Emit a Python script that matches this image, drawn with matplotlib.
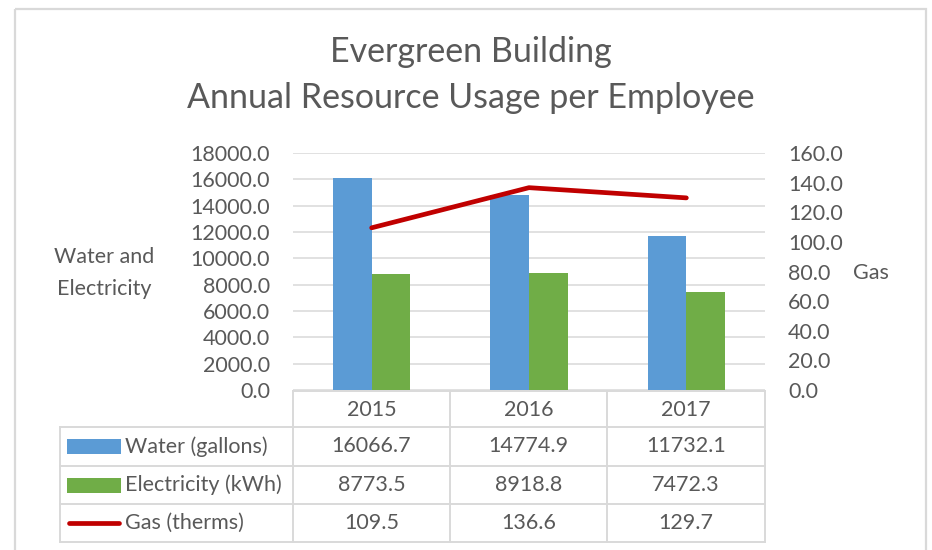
import numpy as np
import matplotlib.pyplot as plt
from matplotlib.patches import Rectangle
from matplotlib.lines import Line2D
from matplotlib.ticker import FormatStrFormatter, MultipleLocator

plt.rcParams['font.family'] = ['Lato', 'DejaVu Sans']

# ── data ──────────────────────────────────────────────────────────────
years = ['2015', '2016', '2017']
water = [16066.7, 14774.9, 11732.1]        # gallons
electricity = [8773.5, 8918.8, 7472.3]     # kWh
gas = [109.5, 136.6, 129.7]                # therms
series_names = ['Water (gallons)', 'Electricity (kWh)', 'Gas (therms)']

# ── style ─────────────────────────────────────────────────────────────
BLUE, GREEN, RED = '#5B9BD5', '#70AD47', '#C00000'
GRID = '#D9D9D9'
TXT = '#595959'
FS = 15.5
W, H = 932, 550

fig = plt.figure(figsize=(W / 100, H / 100), dpi=100)

# overlay in pixel coords for frame + data table
ov = fig.add_axes([0, 0, 1, 1])
ov.set_xlim(0, W)
ov.set_ylim(H, 0)
ov.axis('off')

# plot area (pixels): x 293..765, y 153..390
px0, px1, py0, py1 = 293, 765, 153, 390
ax = fig.add_axes([px0 / W, 1 - py1 / H, (px1 - px0) / W, (py1 - py0) / H])
ax2 = ax.twinx()

x = np.arange(len(years))
bw = 0.245
ax.bar(x - bw / 2, water, bw, color=BLUE, zorder=3)
ax.bar(x + bw / 2, electricity, bw, color=GREEN, zorder=3)
ax2.plot(x, gas, color=RED, lw=3.4, solid_capstyle='round', zorder=4)

ax.set_xlim(-0.5, len(years) - 0.5)
ax.set_ylim(0, 18000)
ax2.set_ylim(0, 160)
ax.yaxis.set_major_locator(MultipleLocator(2000))
ax2.yaxis.set_major_locator(MultipleLocator(20))
ax.yaxis.set_major_formatter(FormatStrFormatter('%.1f'))
ax2.yaxis.set_major_formatter(FormatStrFormatter('%.1f'))
ax.grid(axis='y', color=GRID, lw=1.1, zorder=0)
ax.set_axisbelow(True)
ax.set_xticks([])
for a in (ax, ax2):
    for s in a.spines.values():
        s.set_visible(False)
    a.tick_params(axis='y', length=0, labelsize=FS, labelcolor=TXT, pad=16.5)

# axis titles
ov.text(104, 273, 'Water and\nElectricity', ha='center', va='center',
        fontsize=FS, color=TXT, linespacing=1.8)
ov.text(871, 273, 'Gas', ha='center', va='center', fontsize=FS, color=TXT)

# chart title
ov.text(471, 52, 'Evergreen Building', ha='center', va='center',
        fontsize=24.5, color=TXT)
ov.text(471, 98, 'Annual Resource Usage per Employee', ha='center',
        va='center', fontsize=24.5, color=TXT)

# outer frame
ov.add_patch(Rectangle((15, 9), 911, 560, fill=False, ec=GRID, lw=1.6))

# ── data table ────────────────────────────────────────────────────────
cols = [293, 450, 607, 765]
rows = [391, 427, 466, 504, 542]
tl = dict(color=GRID, lw=1.4)
ov.add_line(Line2D([cols[0], cols[-1]], [rows[0], rows[0]], **tl))
for yy in rows[1:]:
    ov.add_line(Line2D([60, cols[-1]], [yy, yy], **tl))
for xx in cols:
    ov.add_line(Line2D([xx, xx], [rows[0], rows[-1]], **tl))
ov.add_line(Line2D([60, 60], [rows[1], rows[-1]], **tl))

centers = [(cols[i] + cols[i + 1]) / 2 for i in range(len(years))]
for cx, yr in zip(centers, years):
    ov.text(cx, (rows[0] + rows[1]) / 2 + 1, yr, ha='center', va='center',
            fontsize=FS, color=TXT)

table_vals = [water, electricity, gas]
for r, (name, vals) in enumerate(zip(series_names, table_vals)):
    cy = (rows[r + 1] + rows[r + 2]) / 2
    if r < 2:
        ov.add_patch(Rectangle((67, cy - 7.5), 54, 15,
                               color=[BLUE, GREEN][r], lw=0))
    else:
        ov.add_line(Line2D([69, 119], [cy, cy], color=RED, lw=3.4,
                           solid_capstyle='round'))
    ov.text(125, cy, name, ha='left', va='center', fontsize=FS, color=TXT)
    for cx, v in zip(centers, vals):
        ov.text(cx, cy, f'{v:.1f}', ha='center', va='center',
                fontsize=FS, color=TXT)

fig.savefig('out.png', dpi=100)
